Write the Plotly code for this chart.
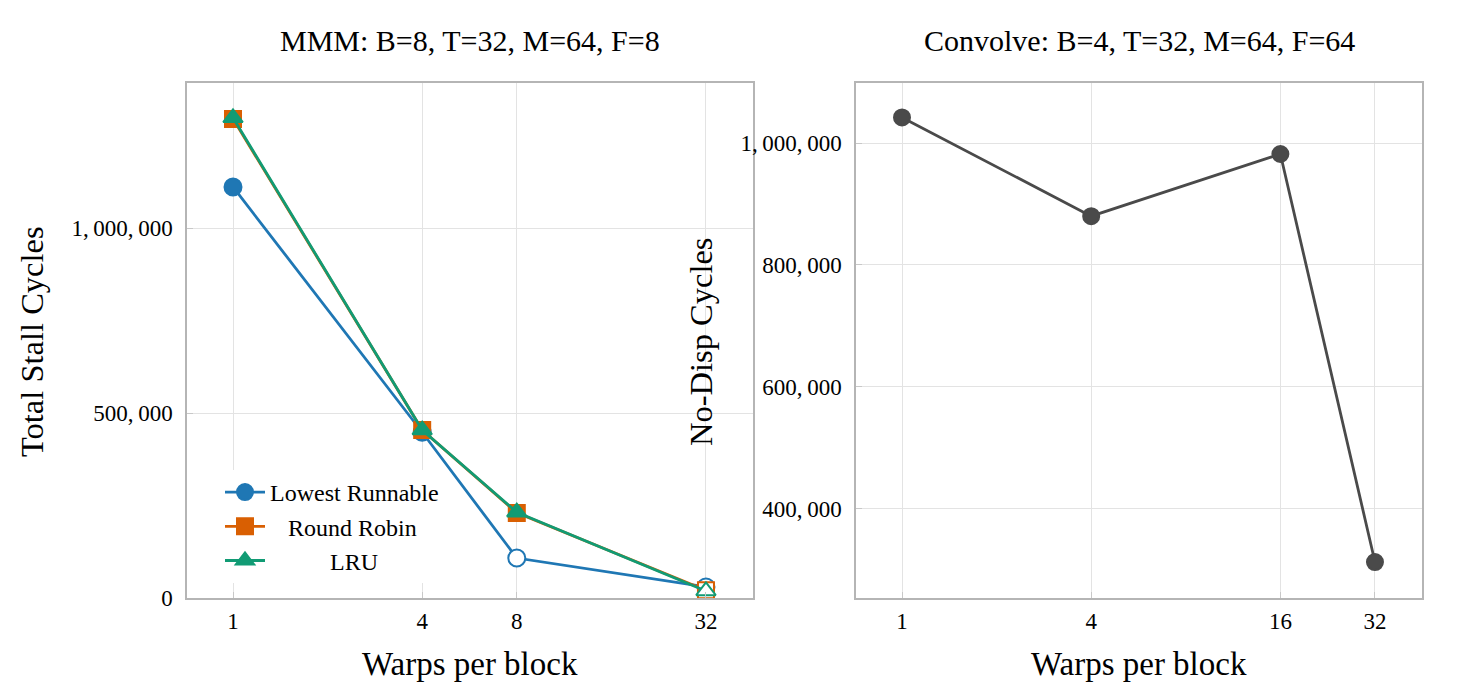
import plotly.graph_objects as go

# ---- data ----
mmm_warps = [1, 4, 8, 32]
lowest_runnable = [1111000, 448000, 108000, 30000]
round_robin = [1295000, 454000, 230000, 21000]
lru = [1298000, 454000, 232000, 19000]
# hollow markers (points drawn open in the reference)
lr_open = [False, False, True, True]
rr_open = [False, False, False, True]
lru_open = [False, False, False, True]

conv_warps = [1, 4, 16, 32]
nodisp_cycles = [1042000, 880000, 982000, 313000]

left_yticks = [0, 500000, 1000000]
left_yticklabels = ["0", "500,\u2009000", "1,\u2009000,\u2009000"]
right_yticks = [400000, 600000, 800000, 1000000]
right_yticklabels = ["400,\u2009000", "600,\u2009000", "800,\u2009000", "1,\u2009000,\u2009000"]

FONT = "Liberation Serif"
BLUE = "#1f77b4"
ORANGE = "#d95f02"
GREEN = "#119b74"
GREY = "#4a4a4a"

fig = go.Figure()


def fills(color, opens):
    return ["white" if o else color for o in opens]


def add_series(x, y, name, color, symbol, opens, xa, ya, size=17, legend=True):
    fig.add_trace(go.Scatter(
        x=x, y=y, name=name, mode="lines+markers",
        line=dict(color=color, width=2.8),
        marker=dict(symbol=symbol, size=size, color=fills(color, opens),
                    line=dict(color=color, width=2)),
        xaxis=xa, yaxis=ya, showlegend=legend,
    ))


NB = "\u00a0"
add_series(mmm_warps, lowest_runnable, "Lowest Runnable", BLUE, "circle", lr_open, "x", "y")
add_series(mmm_warps, round_robin, NB * 3 + "Round Robin", ORANGE, "square", rr_open, "x", "y", size=16)
add_series(mmm_warps, lru, NB * 10 + "LRU", GREEN, "triangle-up", lru_open, "x", "y", size=17)
add_series(conv_warps, nodisp_cycles, "No-Disp", GREY, "circle", [False] * 4, "x2", "y2", size=16, legend=False)

W, H = 1470, 690
grid = "#e3e3e3"
axline = "#b5b5b5"
tickfont = dict(family=FONT, size=23, color="black")

common_x = dict(type="log", showgrid=True, gridcolor=grid, gridwidth=1,
                showline=True, linecolor=axline, linewidth=1.5, mirror=True,
                ticks="inside", ticklen=6, tickcolor="#c8c8c8", automargin=False,
                tickfont=tickfont, zeroline=False, range=[-0.1464, 1.6548],
                ticklabelstandoff=2)
common_y = dict(showgrid=True, gridcolor=grid, gridwidth=1,
                showline=True, linecolor=axline, linewidth=1.5, mirror=True,
                ticks="inside", ticklen=6, tickcolor="#c8c8c8", automargin=False,
                tickfont=tickfont, zeroline=False, ticklabelstandoff=8)

y0 = 1 - 598 / H
y1 = 1 - 83 / H

fig.update_layout(
    template="none",
    width=W, height=H,
    margin=dict(l=0, r=0, t=0, b=0, autoexpand=False),
    paper_bgcolor="white", plot_bgcolor="white",
    font=dict(family=FONT, color="black"),
    xaxis=dict(common_x, domain=[187 / W, 753 / W], anchor="y",
               tickvals=mmm_warps, ticktext=[str(v) for v in mmm_warps]),
    yaxis=dict(common_y, domain=[y0, y1], anchor="x", range=[0, 1392000],
               tickvals=left_yticks, ticktext=left_yticklabels),
    xaxis2=dict(common_x, domain=[856 / W, 1422 / W], anchor="y2",
                tickvals=conv_warps, ticktext=[str(v) for v in conv_warps]),
    yaxis2=dict(common_y, domain=[y0, y1], anchor="x2", range=[254000, 1098400],
                tickvals=right_yticks, ticktext=right_yticklabels),
    legend=dict(x=220 / W, y=1 - 470 / H, xanchor="left", yanchor="top",
                bgcolor="white", borderwidth=0,
                font=dict(family=FONT, size=24, color="black"),
                tracegroupgap=0, itemwidth=40),
    showlegend=True,
)

annots = [
    dict(text="MMM: B=8, T=32, M=64, F=8", x=470 / W, y=1 - 40 / H, size=30, angle=0),
    dict(text="Convolve: B=4, T=32, M=64, F=64", x=1139 / W, y=1 - 40 / H, size=30, angle=0),
    dict(text="Warps per block", x=470 / W, y=1 - 664 / H, size=33, angle=0),
    dict(text="Warps per block", x=1139 / W, y=1 - 664 / H, size=33, angle=0),
    dict(text="Total Stall Cycles", x=32 / W, y=1 - 342 / H, size=32.5, angle=-90),
    dict(text="No-Disp Cycles", x=701 / W, y=1 - 342 / H, size=32.5, angle=-90),
]
for a in annots:
    fig.add_annotation(text=a["text"], x=a["x"], y=a["y"], xref="paper", yref="paper",
                       xanchor="center", yanchor="middle", showarrow=False,
                       textangle=a["angle"], font=dict(family=FONT, size=a["size"], color="black"))

fig.write_html("out.html")
